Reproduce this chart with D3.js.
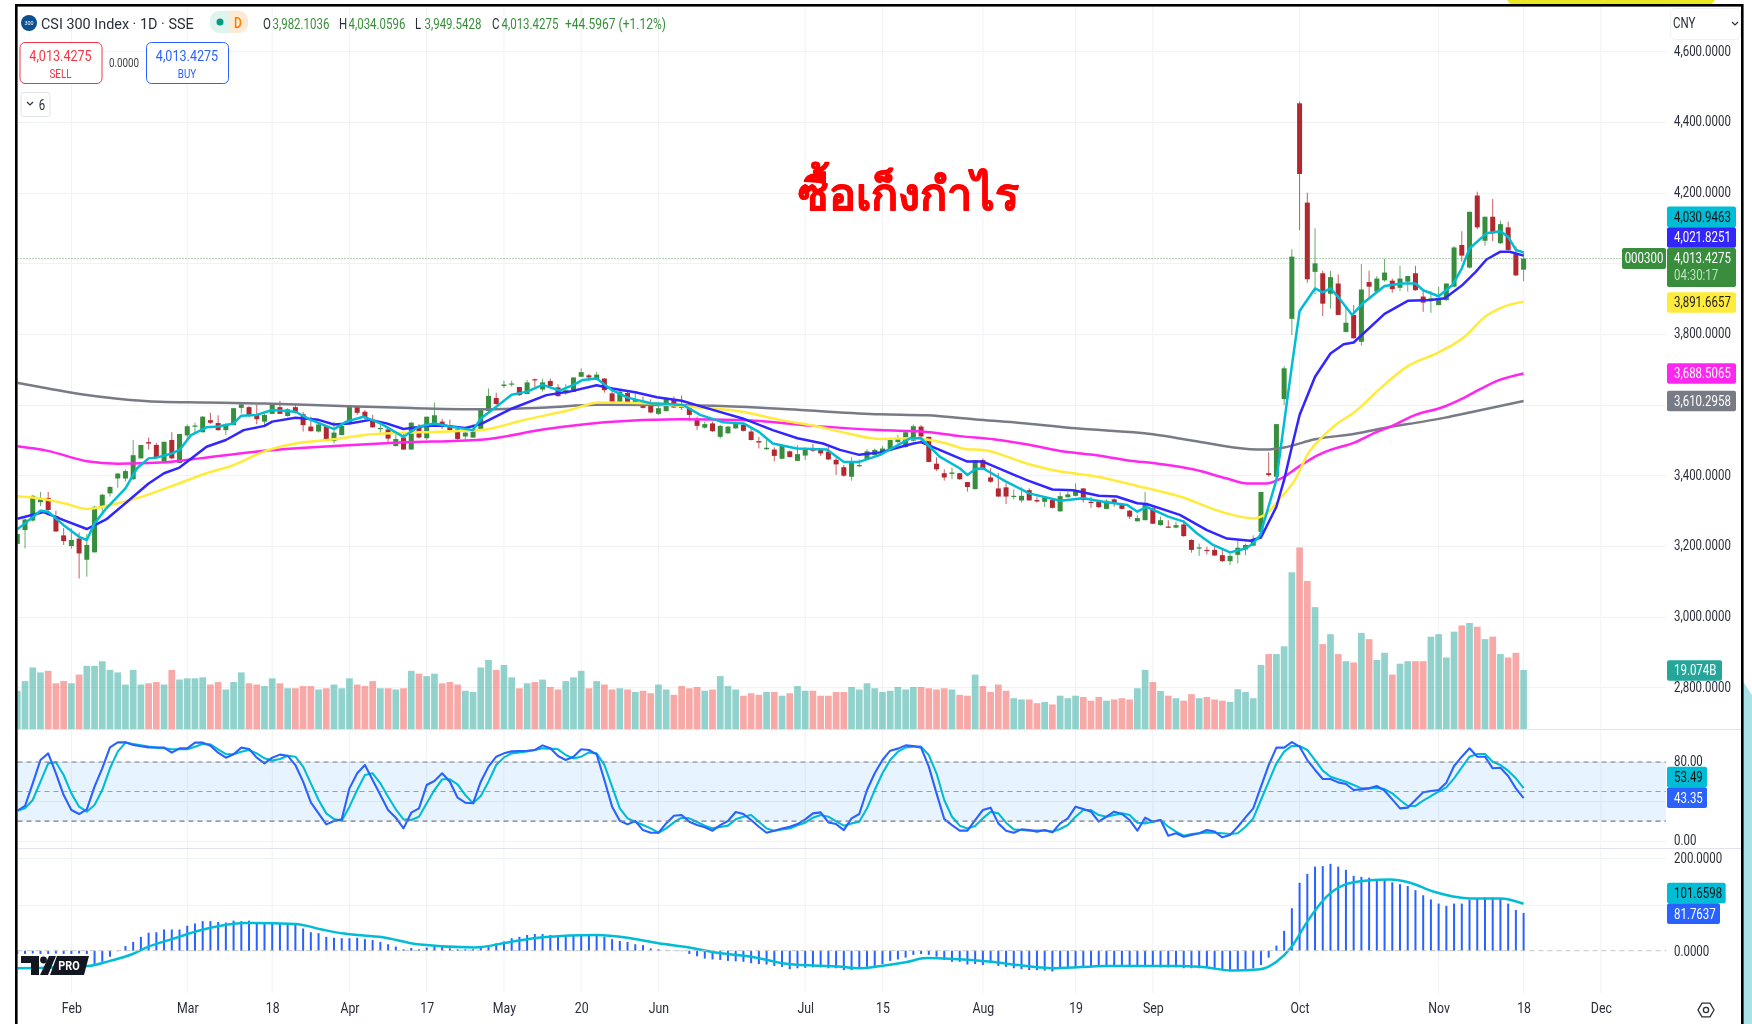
<!DOCTYPE html>
<html><head><meta charset="utf-8">
<script src="https://cdn.jsdelivr.net/npm/d3@7"></script>
<style>html,body{margin:0;padding:0;background:#fff}svg{display:block;filter:blur(0.35px)}
text{font-family:Roboto,"Noto Sans",sans-serif}</style></head>
<body><svg id="c" width="1752" height="1024"></svg>
<script>
const opens=[
3206,3245,3272,3324,3336,3285,3230,3200,3221,3161,
3182,3310,3349,3391,3391,3389,3448,3494,3486,3439,
3500,3435,3513,3540,3522,3556,3548,3528,3542,3591,
3593,3572,3552,3574,3593,3568,3593,3573,3538,3524,
3540,3497,3514,3550,3594,3580,3556,3532,3530,3483,
3507,3473,3534,3505,3547,3552,3541,3530,3510,3507,
3528,3582,3619,3653,3658,3650,3630,3672,3643,3667,
3649,3632,3636,3679,3683,3672,3674,3632,3606,3633,
3606,3607,3601,3574,3582,3614,3601,3594,3557,3535,
3547,3509,3519,3533,3543,3524,3497,3474,3473,3447,
3468,3441,3456,3473,3472,3467,3444,3423,3396,3427,
3446,3457,3464,3470,3494,3480,3498,3538,3509,3433,
3406,3404,3406,3381,3361,3443,3394,3363,3366,3340,
3329,3358,3330,3325,3330,3298,3338,3342,3363,3325,
3325,3305,3332,3318,3300,3270,3273,3307,3259,3255,
3252,3261,3217,3193,3189,3189,3174,3157,3175,3190,
3201,3240,3406,3396,3616,3843,4453,4172,3976,3972,
3914,3943,3806,3854,3778,3947,3920,3952,3951,3931,
3948,3972,3906,3894,3882,3896,3934,4052,3988,4192,
4064,4132,4057,4102,4026,3982.1036];
const highs=[
3234,3278,3344,3353,3353,3300,3251,3250,3238,3234,
3313,3347,3370,3407,3417,3500,3486,3507,3492,3495,
3522,3517,3544,3549,3568,3577,3570,3548,3590,3604,
3596,3599,3575,3604,3611,3590,3601,3580,3566,3547,
3541,3552,3547,3599,3596,3585,3571,3544,3533,3517,
3517,3551,3545,3566,3606,3560,3558,3533,3526,3544,
3589,3646,3634,3668,3668,3650,3670,3674,3674,3674,
3658,3658,3677,3703,3687,3693,3675,3649,3643,3641,
3632,3623,3615,3608,3621,3623,3626,3602,3566,3552,
3552,3543,3540,3552,3547,3533,3509,3505,3479,3487,
3470,3485,3479,3489,3475,3481,3453,3429,3451,3445,
3474,3476,3483,3500,3514,3524,3544,3542,3509,3451,
3417,3422,3407,3381,3443,3448,3420,3407,3377,3360,
3366,3363,3340,3340,3332,3353,3354,3377,3363,3338,
3328,3332,3335,3321,3302,3288,3353,3309,3283,3273,
3269,3273,3219,3207,3198,3202,3189,3179,3214,3207,
3230,3353,3465,3545,3709,4040,4458,4200,4099,3979,
3979,3969,3877,3882,3998,3979,3964,4013,3957,3993,
3964,3993,3924,3922,3934,3943,4049,4091,4146,4203,
4132,4182,4121,4118,4049,4034.0596];
const lows=[
3189,3193,3269,3313,3300,3241,3203,3192,3108,3113,
3182,3292,3340,3365,3382,3387,3448,3473,3448,3439,
3446,3434,3502,3519,3521,3545,3526,3514,3542,3575,
3564,3545,3536,3574,3573,3566,3575,3524,3524,3521,
3498,3490,3513,3547,3571,3558,3534,3521,3492,3481,
3472,3473,3504,3500,3540,3531,3526,3500,3498,3506,
3526,3580,3600,3647,3651,3625,3630,3643,3637,3649,
3623,3628,3636,3679,3666,3670,3634,3597,3604,3604,
3604,3589,3576,3571,3580,3590,3585,3554,3528,3532,
3523,3504,3517,3531,3524,3499,3476,3472,3440,3445,
3450,3440,3443,3466,3455,3443,3401,3396,3385,3423,
3444,3456,3462,3468,3490,3478,3496,3495,3437,3413,
3385,3389,3387,3354,3360,3415,3379,3338,3319,3332,
3323,3329,3323,3310,3306,3297,3337,3340,3323,3308,
3307,3304,3311,3303,3276,3269,3273,3262,3258,3251,
3250,3226,3181,3172,3176,3172,3155,3146,3151,3174,
3199,3224,3396,3394,3599,3797,4094,3945,3913,3851,
3872,3854,3804,3787,3767,3898,3918,3948,3917,3922,
3920,3922,3863,3860,3881,3894,3932,4005,3986,4096,
4050,4063,4055,4036,3964,3949.5428];
const closes=[
3234,3275,3342,3336,3302,3241,3214,3217,3179,3203,
3311,3345,3367,3405,3412,3457,3486,3490,3451,3495,
3448,3517,3539,3541,3566,3549,3528,3545,3590,3601,
3569,3559,3571,3604,3574,3587,3577,3542,3525,3544,
3500,3521,3540,3597,3577,3565,3536,3534,3504,3503,
3473,3549,3507,3566,3570,3540,3528,3503,3521,3531,
3587,3625,3602,3657,3660,3627,3663,3670,3663,3653,
3624,3641,3677,3692,3677,3685,3641,3599,3637,3606,
3615,3591,3578,3590,3617,3592,3591,3571,3540,3545,
3525,3540,3538,3546,3526,3500,3493,3478,3455,3485,
3452,3460,3476,3470,3462,3445,3431,3399,3440,3429,
3468,3472,3476,3500,3504,3522,3539,3510,3438,3417,
3394,3408,3389,3367,3443,3417,3382,3340,3340,3342,
3342,3329,3326,3337,3308,3341,3346,3356,3330,3322,
3310,3328,3321,3305,3283,3279,3321,3263,3273,3253,
3259,3228,3189,3196,3186,3173,3157,3172,3195,3203,
3215,3353,3401,3545,3703,4019,4253,3955,4000,3886,
3961,3854,3832,3788,3926,3934,3957,3974,3927,3957,
3964,3924,3889,3901,3896,3943,4045,4022,4146,4102,
4132,4085,4111,4038,3966,4013.4275];
const volumes=[
12.4,15.5,19.9,18.3,18.8,14.8,15.5,14.8,17.6,20.4,
20.4,21.9,19.1,18.3,14.4,19.1,14.4,14.8,15.2,14.4,
19.1,16,16.4,16.4,16.7,14.4,15.2,12.8,15.2,18.3,
14.8,14.4,13.9,16.4,14.8,13.2,13.2,13.9,13.9,12.8,
13.2,14.4,13.2,16.4,14.4,13.9,15.5,13.2,13.2,12.8,
13.2,18.8,17.9,17.1,17.9,14.8,15.2,14.4,12.4,12,
19.9,22.3,19.1,20.7,16.7,13.2,14.8,15.2,16,13.6,
12.8,15.5,16.7,18.8,13.2,15.5,14.4,12.8,13.2,12.8,
12,12.4,11.6,14.4,12.8,11.1,13.9,13.2,13.6,12.4,
12.8,17.1,13.9,12.8,10.8,11.6,11.1,12,12,10.8,
11.6,13.9,12.4,12.4,10.8,10.8,12,12,13.6,12.8,
14.8,13.2,12,12.4,13.6,12.8,13.6,13.6,13.2,12.8,
13.2,12.8,11.1,10.8,17.6,13.9,12,14.4,12.4,10,
9.6,9.6,8.4,8.8,8,10.8,10,10.8,10.4,9.2,
10.4,9.2,9.6,10,9.6,13.2,19.1,15.2,12.3,10.8,
10,9.2,11.3,10,10.4,9.6,9.2,8.8,12.9,12,
10,20.7,24.2,24.2,26.7,50.5,58.5,47.7,39.3,27.4,
30.6,24.2,21.9,21.5,31,29,22.3,24.6,17.6,21.1,
21.9,21.9,21.9,29.8,30.6,23.1,31.4,33.4,34.2,33,
29,29.8,24.2,23.1,24.6,19.074];
const stochK=[
30.5,35.3,58.3,82,88.8,68.5,46.4,31.2,27.1,31.9,
54.9,73.6,94.9,100,100,97.3,96,94.9,94.7,94.6,
89.5,93.9,93.9,99.7,99.7,96.6,89.5,84.4,87.8,94.6,
93.2,84.4,78.6,84.4,87.5,86.4,76.9,60,39,27.8,
16.6,20,21.7,53.2,68.5,76.9,61.7,46.4,31.2,23.4,
12.5,28.5,32.9,56.6,60.7,68.5,60,43.7,38.6,38,
60,75.3,85.4,88.8,90.8,91.2,91.5,92.2,96.9,93.9,
86.1,82,85.4,92.9,92.2,87.8,61.7,34.6,20.3,16.6,
20,10.8,8.1,8.1,17.6,25.4,26.1,19.3,15.9,13.6,
10.2,15.9,20,29.2,27.1,21,14.2,8.1,10.2,12.5,
14.2,16.9,21.7,27.8,28.8,18.6,16.9,10.8,22.7,27.1,
51.5,68.5,82,91.5,93.6,96.9,96.3,94.6,75.3,48.1,
22,15.9,10.2,10.2,21,31.2,33.6,17.6,10.2,8.1,
11.5,10.8,9.2,10.8,8.5,17.6,22.7,34.6,32.2,29.5,
19.3,24.4,29.5,27.1,21,10.2,23.4,19.3,21,5.1,
7.5,4.1,5.8,7.5,10.8,9.2,3.4,5.8,14.2,23.7,
32.9,54.9,76.9,94.6,94.6,100.3,95.6,82,71.9,62.7,
62.7,59.3,57.6,51.5,52.2,53.2,55.6,50.8,42,32.9,
33.6,41.4,49.2,50.5,51.5,59,75.9,85.4,93.9,85.4,
85.4,73.6,74.2,65.8,53.2,43.35];
const stochD=[
30.5,32.9,41.4,60,78.6,79.7,66.8,48.1,34.6,29.5,
36.3,51.5,73.6,90.5,99.7,98.3,97,95.6,94.6,93.9,
92.9,92.9,92.9,95.6,98.3,98,92.9,88.1,87.8,90.5,
92.2,88.8,83.7,81.4,83,86.4,85.4,75.3,58.3,41.4,
27.8,22,20.3,34.6,51.5,66.8,68.5,58.3,44.7,31.9,
21.7,21,24.4,38,51.5,62.4,62.4,57.3,46.4,38,
45.4,60,77,84.7,88.8,89.8,90.8,92.2,93.9,93.6,
92.9,87.1,83.7,85.4,89.8,88.8,77,54.9,32.9,22.7,
19.3,15.9,12.5,8.1,12.5,18.6,23.4,22.7,19,15.3,
12.5,13.9,15.3,21.7,24.4,26.1,19.3,12.5,10.2,11.5,
12.5,15.6,18.3,23.4,26.1,24.4,19.7,15.3,17.6,19.3,
32.9,51.5,68.5,82,90.5,94.9,95.6,95.6,87.1,68.5,
41.4,24.4,15.3,12.5,14.9,22.7,29.5,27.8,18.3,11.5,
10.8,10.2,10.2,10.2,9.2,11.9,15.9,24.4,31.2,31.2,
26.1,24.4,26.1,27.8,26.1,18.3,17.6,19.3,21,14.2,
9.2,5.1,6.8,7.5,8.5,8.1,7.5,6.8,7.5,14.2,
22.7,41.4,60,78.6,90.5,96.3,96.3,92.2,82,71.2,
65,62.4,60,56.6,53.2,53.2,53.9,52.5,48.1,41.4,
35.3,35.3,40.7,45.4,49.8,54.2,63.4,74.6,85.4,88.1,
88.1,80.3,76.9,71.2,63.4,53.49];
const macdHist=[
-7,-7,-6,-7,-7,-6,-7,-7,-6,-7,
-29,-24,-13,-1,10,19,30,39,40,46,
46,46,54,59,64,64,62,61,65,64,
65,59,59,59,59,57,56,48,40,38,
30,28,27,27,28,25,23,19,14,9,
3,6,3,7,9,10,5,3,3,3,
7,12,16,20,27,30,34,36,36,34,
32,32,34,34,34,32,30,25,21,19,
14,12,5,3,1,0.5,-1,-7,-12,-17,
-19,-20,-22,-23,-24,-27,-29,-30,-33,-35,
-40,-38,-37,-36,-36,-38,-38,-42,-42,-38,
-35,-33,-29,-22,-19,-15,-9,-7,-9,-13,
-20,-24,-24,-30,-29,-31,-27,-33,-35,-38,
-40,-42,-42,-43,-45,-38,-36,-35,-35,-35,
-35,-35,-35,-35,-35,-35,-35,-35,-36,-36,
-36,-38,-38,-38,-36,-38,-40,-45,-43,-42,
-38,-31,-15,11,43,92,147,166,182,183,
188,182,175,162,160,158,155,153,148,144,
140,131,120,111,102,97,102,102,110,113,
115,115,113,102,88,81.7637];
// moving-average readings: bar position, value
const cyanBar=[0,1,3,4,6,8,9,10,11.5,14,15.5,17,18,20,21,22.5,24.5,26,28,29,31,33,36,38,41,42.6,44.8,47,50,52,54,56,59,60,62,64,66,68,70.2,72,73.2,75,77,79,82,84.1,86.2,88.4,91.4,94,96,97.8,100.9,104.8,107,109,111.7,115.6,117,119.4,122,123,124,125,128,131,135,138,140.6,143.7,145,146.2,149,151,152.7,154.8,157,159,160,160.9,163,164,165,166,168,169,170,171,172.8,174.2,177,179.2,181,182,184,185.8,187,188,190.2,192,193,194,195];
const cyanVal=[3247,3264,3300,3297,3259,3226,3217,3264,3306,3363,3420,3448,3450,3462,3472,3514,3536,3538,3547,3569,3571,3585,3580,3557,3531,3552,3566,3547,3509,3538,3547,3538,3528,3561,3594,3628,3637,3656,3640,3656,3670,3674,3641,3620,3604,3602,3599,3571,3550,3547,3523,3490,3476,3473,3438,3438,3458,3505,3505,3453,3420,3401,3417,3420,3382,3349,3328,3335,3325,3316,3297,3311,3283,3269,3236,3203,3182,3193,3207,3231,3387,3549,3710,3865,3929,3918,3929,3905,3854,3887,3936,3943,3943,3924,3907,3939,3986,4042,4085,4091,4075,4038,4030.9463];
const blueBar=[0,3.4,6,9,11.5,14,17,19,21,24.5,27,29.3,32,33,36,39,41,43,45.7,47.8,50,53,55.6,58,60,63.8,68.5,71.5,75,77,80,82.8,86,89.6,93.9,97.8,101,104.3,106.5,109,111.7,116,117,119.4,122,123,125,127.6,130.6,134,136.7,140,142.3,145,146.2,150.5,154,156.6,159.6,161,163,164,165,166,168,170,171.7,173,177,180,183,184.8,187,188.8,190.2,192,193.2,195];
const blueVal=[3277,3296,3273,3248,3275,3321,3377,3406,3422,3481,3500,3528,3540,3552,3563,3557,3544,3547,3557,3547,3531,3540,3540,3534,3545,3587,3627,3637,3655,3646,3635,3621,3611,3588,3561,3528,3505,3490,3472,3458,3465,3490,3494,3472,3448,3439,3439,3415,3387,3360,3358,3342,3340,3321,3319,3288,3245,3221,3215,3224,3311,3387,3481,3571,3679,3745,3771,3776,3857,3894,3896,3901,3937,3976,4011,4033,4033,4021.8251];
const yellowBar=[0,2,6.4,9,12,15,19.8,24.5,28,32,36,41,45.2,49.5,53.8,60,65.5,71.5,75.4,81.5,87,94.4,98.7,103,107.4,111.7,116,120.3,122.9,125,130.6,134,139.3,145,150.5,156.6,160,162,163.5,165.4,167,169,170.6,173,176.6,180,184,187.4,190,192.4,195];
const yellowVal=[3341,3337,3319,3305,3316,3332,3368,3406,3429,3468,3490,3502,3515,3520,3523,3528,3556,3585,3606,3604,3594,3578,3557,3541,3519,3503,3505,3490,3474,3472,3434,3415,3398,3370,3340,3292,3278,3297,3335,3387,3458,3510,3542,3577,3649,3709,3748,3793,3849,3877,3891.6657];
const magentaBar=[0,3.8,9,13,19.3,23.6,32.3,41,49.5,60,68.5,76,85.8,94.4,103,111.7,117.7,122,126.4,130.6,135,139.3,143.6,147.9,152.2,156.6,159.2,161.7,163.4,166,168,170,173,175.8,178,181,184.4,187.4,189.3,191.9,195];
const magentaVal=[3482,3470,3440,3433,3437,3448,3470,3483,3493,3501,3531,3550,3559,3556,3540,3528,3523,3511,3502,3488,3469,3458,3443,3432,3417,3391,3377,3377,3389,3426,3453,3472,3492,3521,3540,3571,3592,3621,3643,3670,3688.5065];
const grayBar=[0,4,8.5,13,18.5,24,32,41,50,60,68.5,75,83,92.7,102,111.7,117.7,124.6,130.6,137,147,152.2,159.6,161.5,164,168,173,178,182,185,187.4,195];
const grayVal=[3662,3646,3629,3617,3608,3606,3603,3597,3591,3587,3592,3600,3599,3595,3584,3573,3570,3557,3547,3533,3516,3498,3474,3473,3479,3502,3517,3538,3552,3564,3575,3610.2958];
const macdBar=[0,9.2,12,14.6,17,20,23,26,29.5,36,39.4,42.3,47.3,51.8,59.2,64,68,75,79,83,87,90.4,95,99.8,106.8,108.8,111.8,115,117.7,120,126.1,130,134.5,141,150.4,153.1,157.4,160.9,163,165,167,169.5,171.7,174.8,177.7,180.3,183.3,186,188,192,195];
const macdVal=[-38,-33,-22,-9.4,8.7,25,41,53,60,58,46,37,29,14,7,19.5,29,34,28,16,7,-4,-13,-29,-35,-38,-33,-25,-16,-17,-24,-32,-38,-33,-33,-35,-43,-40,-24,9,63,117,142,152,154,147,128,117,113,113,101.6598];
const timeBars=[7,22,33,43,53,63,73,83,102,112,125,137,147,166,184,195,205];
const timeLabels=["Feb","Mar","18","Apr","17","May","20","Jun","Jul","15","Aug","19","Sep","Oct","Nov","18","Dec"];
const priceTicks=[4600,4400,4200,4000,3800,3600,3400,3200,3000,2800];
const stochTicks=[80,0];
const stochGrid=[80,40,0];
const stochLevels=[80,50,20];
const macdTicks=[200,0];
const macdGrid=[200,100];
const tagValues=[4030.9463,4021.8251,3891.6657,3688.5065,3610.2958];
const tagFills=["#00bcd4","#3325ff","#ffeb3b","#ff26f0","#787b86"];
const tagInks=["#111","#fff","#222","#fff","#fff"];

// layout
const L=17.5,R=1666,FR=1741.5,AX=1674;
const tagCentres=[216.8,237.5,302.5,373.5,401];
const x=d3.scaleLinear().domain([0,195]).range([17.3,1523.6]);
const yP=d3.scaleLinear().domain([2800,4600]).range([687.3,51.4]);
const yV=d3.scaleLinear().domain([0,19.074]).range([729.3,670]);
const yS=d3.scaleLinear().domain([0,80]).range([840.7,762]);
const yM=d3.scaleLinear().domain([0,200]).range([950.7,858.3]);
const GREEN="#388e3c",RED="#b2282f",GRID="#f0f2f5";
const svg=d3.select("#c");
const n=closes.length, bars=d3.range(n);
const up=i=>closes[i]>=opens[i];

// page decoration outside the chart frame
svg.append("path").attr("d",d3.line()([[1507,0],[1715,0],[1712,4],[1510,4]])+"Z").attr("fill","#ebe823");
svg.append("path").attr("d",d3.line()([[1742,680],[1752,695],[1752,1024],[1742,1024]])+"Z").attr("fill","#a9e3ea");

// grids
const g=svg.append("g");
g.selectAll(".vg").data(timeBars).join("line").attr("x1",d=>x(d)).attr("x2",d=>x(d)).attr("y1",6).attr("y2",993).attr("stroke",GRID);
const hl=(vals,sc,col=GRID)=>g.selectAll(null).data(vals).join("line").attr("x1",L).attr("x2",R).attr("y1",d=>Math.round(sc(d))+.5).attr("y2",d=>Math.round(sc(d))+.5).attr("stroke",col);
hl(priceTicks,yP); hl(stochGrid,yS); hl(macdGrid,yM);

// stoch band
g.append("rect").attr("x",L).attr("width",R-L).attr("y",yS(80)).attr("height",yS(20)-yS(80)).attr("fill","#2196f3").attr("opacity",.11);

svg.append("defs").append("clipPath").attr("id","pane").append("rect").attr("x",L).attr("y",6).attr("width",R-L).attr("height",987);
const plot=svg.append("g").attr("clip-path","url(#pane)");

// volume
plot.append("g").selectAll("rect").data(bars).join("rect")
 .attr("x",i=>x(i)-3.35).attr("width",6.7).attr("y",i=>yV(volumes[i])).attr("height",i=>yV(0)-yV(volumes[i]))
 .attr("fill",i=>up(i)?"#26a69a":"#ef5350").attr("opacity",.5);

// candles
const cg=plot.append("g");
cg.selectAll(".w").data(bars).join("line").attr("x1",i=>x(i)).attr("x2",i=>x(i)).attr("y1",i=>yP(highs[i])).attr("y2",i=>yP(lows[i])).attr("stroke",i=>up(i)?GREEN:RED).attr("stroke-opacity",.75);
cg.selectAll(".b").data(bars).join("rect").attr("x",i=>x(i)-2.5).attr("width",5)
 .attr("y",i=>yP(Math.max(opens[i],closes[i]))).attr("height",i=>Math.max(1.2,Math.abs(yP(opens[i])-yP(closes[i]))))
 .attr("fill",i=>up(i)?GREEN:RED);

// moving averages
const ln=(b,v,sc,col,w,curve)=>plot.append("path").datum(d3.zip(b,v)).attr("fill","none").attr("stroke",col).attr("stroke-width",w).attr("stroke-linejoin","round")
 .attr("d",d3.line().x(d=>x(d[0])).y(d=>sc(d[1])).curve(curve||d3.curveLinear));
ln(grayBar,grayVal,yP,"#787b86",2.5,d3.curveMonotoneX);
ln(magentaBar,magentaVal,yP,"#ff26f0",2.5,d3.curveMonotoneX);
ln(yellowBar,yellowVal,yP,"#ffeb3b",2.5,d3.curveMonotoneX);
ln(blueBar,blueVal,yP,"#3325ff",2.5);
ln(cyanBar,cyanVal,yP,"#00bcd4",2.5);

// last-price dotted line
svg.append("line").attr("x1",L).attr("x2",1622).attr("y1",yP(4013.4275)).attr("y2",yP(4013.4275)).attr("stroke",GREEN).attr("stroke-dasharray","1 2").attr("stroke-opacity",.85);

// stochastic
const lev=svg.append("g");
lev.selectAll("line").data(stochLevels).join("line").attr("x1",L).attr("x2",R).attr("y1",d=>yS(d)).attr("y2",d=>yS(d))
 .attr("stroke","#787b86").attr("stroke-opacity",d=>d===50?.7:1).attr("stroke-dasharray","5 4").attr("stroke-width",1.2);
ln(bars,stochD,yS,"#00bcd4",2.1);
ln(bars,stochK,yS,"#2962ff",2.1);

// MACD
svg.append("line").attr("x1",L).attr("x2",R).attr("y1",yM(0)).attr("y2",yM(0)).attr("stroke","#c4c4c4").attr("stroke-dasharray","5 4");
plot.append("g").selectAll("rect").data(bars).join("rect").attr("x",i=>x(i)-1).attr("width",2)
 .attr("y",i=>Math.min(yM(0),yM(macdHist[i]))).attr("height",i=>Math.abs(yM(macdHist[i])-yM(0))).attr("fill","#2962ff");
ln(macdBar,macdVal,yM,"#00bcd4",2.5,d3.curveMonotoneX);

// pane separators
[729.5,848.5].forEach(y=>svg.append("line").attr("x1",L).attr("x2",FR).attr("y1",y).attr("y2",y).attr("stroke","#e0e3eb"));

// axes
const SX=.82;
function axisStyle(a,sx){a.select(".domain").remove();a.selectAll("line").remove();
 a.selectAll("text").attr("font-size",14).attr("fill","#2a2e39").attr("font-family","Roboto").each(function(){
  const t=d3.select(this),px=+t.attr("x")||0;t.attr("x",0).attr("transform",`translate(${px},0) scale(${sx},1)`);});}
const aP=svg.append("g").attr("transform",`translate(${AX},-0.6)`).call(d3.axisRight(yP).tickValues(priceTicks.filter(d=>d!==4000&&d!==3600)).tickFormat(d3.format(",.4f")).tickSize(0).tickPadding(0));axisStyle(aP,SX);
const aS=svg.append("g").attr("transform",`translate(${AX},-0.5)`).call(d3.axisRight(yS).tickValues(stochTicks).tickFormat(d3.format(".2f")).tickSize(0).tickPadding(0));axisStyle(aS,SX);
const aM=svg.append("g").attr("transform",`translate(${AX},0)`).call(d3.axisRight(yM).tickValues(macdTicks).tickFormat(d3.format(".4f")).tickSize(0).tickPadding(0));axisStyle(aM,SX);
const aT=svg.append("g").attr("transform","translate(0,1003)").call(d3.axisBottom(x).tickValues(timeBars).tickFormat((d,i)=>timeLabels[i]).tickSize(0).tickPadding(0));axisStyle(aT,.88);
aT.selectAll(".tick text").attr("dy","0.71em");

// generic text
function T(p,tx,ty,s,fs,fill,anchor="start",sx=SX,weight=400){
 return p.append("text").attr("transform",`translate(${tx},${ty}) scale(${sx},1)`).attr("dy","0.35em").attr("font-size",fs).attr("fill",fill).attr("text-anchor",anchor).attr("font-weight",weight).text(s);}
const fmt=d3.format(",.4f");

// tags
const tags=svg.append("g");
function tag(x0,x1,yc,h,bg,fg,s){tags.append("rect").attr("x",x0).attr("y",yc-h/2).attr("width",x1-x0).attr("height",h).attr("rx",2).attr("fill",bg);
 T(tags,AX,yc,s,14,fg);}
tagValues.forEach((v,k)=>tag(1667,1736,tagCentres[k],20.7,tagFills[k],tagInks[k],fmt(v)));
tags.append("rect").attr("x",1622).attr("y",248).attr("width",44).attr("height",21).attr("rx",2).attr("fill",GREEN);
T(tags,1644,258.5,"000300",14,"#fff","middle");
tags.append("rect").attr("x",1667).attr("y",248).attr("width",69).attr("height",39).attr("rx",2).attr("fill",GREEN);
T(tags,AX,258.5,"4,013.4275",14,"#fff");
T(tags,AX,275.5,"04:30:17",14,"#c5dfc6");
tag(1667,1722,670.5,20.7,"#26a69a","#fff","19.074B");
tag(1667,1707,777,20.7,"#00bcd4","#111","53.49");
tag(1667,1707,797.6,20.7,"#2962ff","#fff","43.35");
tag(1667,1725.7,893,20.7,"#00bcd4","#111","101.6598");
tag(1667,1720,913.6,20.7,"#2962ff","#fff","81.7637");

// header
const h=svg.append("g");
h.append("circle").attr("cx",29).attr("cy",23).attr("r",8).attr("fill","#0b4f8e");
T(h,29,23,"300",6,"#fff","middle",.9);
T(h,41,24,"CSI 300 Index · 1D · SSE",15.5,"#2a2e39","start",.93);
h.append("rect").attr("x",222).attr("y",11).attr("width",26).attr("height",22).attr("rx",9).attr("fill","#ffe9d2");
h.append("rect").attr("x",210).attr("y",11).attr("width",26).attr("height",22).attr("rx",9).attr("fill","#dff3ef");
h.append("rect").attr("x",229).attr("y",11).attr("width",9).attr("height",22).attr("fill","#ffe9d2");
h.append("circle").attr("cx",220).attr("cy",22).attr("r",3.5).attr("fill","#089981");
T(h,238,23,"D",14,"#f57c00","middle",.85,500);
const ohlc=[["O",263,"3,982.1036"],["H",339,"4,034.0596"],["L",415,"3,949.5428"],["C",492,"4,013.4275"]];
ohlc.forEach(o=>{T(h,o[1],24,o[0],14,"#2a2e39");T(h,o[1]+9.5,24,o[2],14,GREEN);});
T(h,565,24,"+44.5967 (+1.12%)",14,GREEN,"start",.86);

function box(x0,col,lab){h.append("rect").attr("x",x0+.5).attr("y",42.5).attr("width",82).attr("height",41).attr("rx",5).attr("fill","#fff").attr("stroke",col);
 T(h,x0+41,56,"4,013.4275",14,col,"middle",.9);T(h,x0+41,73.5,lab,12,col,"middle");}
box(19.5,"#f23645","SELL");box(146,"#2962ff","BUY");
T(h,124,63,"0.0000",12,"#444","middle");
h.append("rect").attr("x",21).attr("y",92.5).attr("width",29).attr("height",24).attr("rx",3).attr("fill","#fff").attr("stroke","#e0e3eb");
h.append("path").attr("d",d3.line()([[27,102],[30,105],[33,102]])).attr("fill","none").attr("stroke","#2a2e39").attr("stroke-width",1.2);
T(h,42,105,"6",14,"#2a2e39","middle");
h.append("rect").attr("x",1670.5).attr("y",8.5).attr("width",70).attr("height",31).attr("rx",5).attr("fill","#fff").attr("stroke","#eef0f3");
T(h,1673,23,"CNY",14,"#2a2e39");
h.append("path").attr("d",d3.line()([[1732,22],[1735,25],[1738,22]])).attr("fill","none").attr("stroke","#2a2e39").attr("stroke-width",1.2);

// annotation
svg.append("text").attr("x",908).attr("y",210).attr("text-anchor","middle").attr("font-size",45).attr("font-weight",700).attr("fill","#ff0000").attr("stroke","#ff0000").attr("stroke-width",.7).attr("stroke-linejoin","round")
 .attr("font-family","'Noto Sans Thai','Noto Sans Thai Looped','Noto Sans',sans-serif").text("ซื้อเก็งกำไร");

// watermark
const wm=svg.append("g").attr("fill","#131722");
wm.append("path").attr("d",d3.line()([[21,956],[39,956],[39,975],[31,975],[31,963],[21,963]])+"Z");
wm.append("circle").attr("cx",43.5).attr("cy",960).attr("r",3.4);
wm.append("path").attr("d",d3.line()([[49,956],[56,956],[48,975],[40,975]])+"Z");
wm.append("path").attr("d",d3.line()([[57,956],[89,956],[84,975],[50,975]])+"Z");
T(svg,69,965.5,"PRO",12,"#fff","middle",.9,700);

// gear
const hex=d3.range(6).map(k=>[1706+8*Math.cos(k*Math.PI/3),1010+8*Math.sin(k*Math.PI/3)]);
svg.append("path").attr("d",d3.line()(hex)+"Z").attr("fill","none").attr("stroke","#2a2e39").attr("stroke-width",1.3);
svg.append("circle").attr("cx",1706).attr("cy",1010).attr("r",2.6).attr("fill","none").attr("stroke","#2a2e39").attr("stroke-width",1.3);

// frame
const fr=svg.append("g").attr("fill","#000");
fr.append("rect").attr("x",15).attr("y",4).attr("width",2.6).attr("height",1020);
fr.append("rect").attr("x",15).attr("y",4).attr("width",1728).attr("height",2.6);
fr.append("rect").attr("x",1741).attr("y",4).attr("width",2.6).attr("height",1020);
</script></body></html>
